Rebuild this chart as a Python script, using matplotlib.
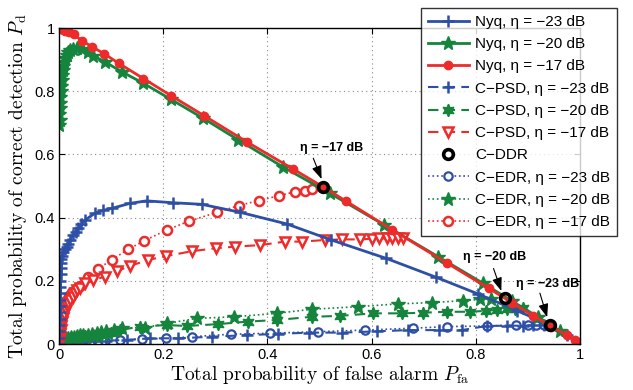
import matplotlib
matplotlib.use("Agg")
import matplotlib.pyplot as plt
from matplotlib.lines import Line2D

# ---------------- data ----------------
nyq17_x = [0, 0.003, 0.006, 0.009, 0.012, 0.016, 0.02, 0.028, 0.044, 0.063, 0.087, 0.115, 0.162, 0.215, 0.279, 0.36, 0.45, 0.506, 0.55, 0.64, 0.744, 0.825, 0.87, 0.91, 0.945, 0.975, 0.99, 1.0]
nyq17_y = [1.0, 0.998, 0.996, 0.994, 0.992, 0.99, 0.987, 0.98, 0.96, 0.941, 0.918, 0.888, 0.84, 0.786, 0.722, 0.64, 0.553, 0.498, 0.453, 0.361, 0.257, 0.176, 0.13, 0.09, 0.055, 0.028, 0.012, 0.0]

nyq20_x = [0, 0.001, 0, 0.001, 0.002, 0.002, 0.003, 0.004, 0.005, 0.006, 0.007, 0.008, 0.01, 0.012, 0.015, 0.018, 0.022, 0.027, 0.035, 0.044, 0.055, 0.066, 0.088, 0.12, 0.162, 0.215, 0.277, 0.344, 0.43, 0.52, 0.624, 0.728, 0.814, 0.87, 0.92, 0.962, 1.0]
nyq20_y = [0.693, 0.71, 0.728, 0.746, 0.764, 0.782, 0.8, 0.818, 0.835, 0.852, 0.867, 0.88, 0.893, 0.905, 0.915, 0.923, 0.93, 0.934, 0.936, 0.933, 0.925, 0.912, 0.893, 0.862, 0.825, 0.774, 0.714, 0.646, 0.56, 0.477, 0.377, 0.276, 0.192, 0.135, 0.085, 0.04, 0.0]

nyq23_x = [0, 0, 0.0005, 0.0005, 0.001, 0.001, 0.0015, 0.0015, 0.002, 0.002, 0.0025, 0.003, 0.0035, 0.004, 0.0045, 0.005, 0.008, 0.012, 0.015, 0.018, 0.021, 0.027, 0.032, 0.037, 0.043, 0.05, 0.069, 0.085, 0.101, 0.136, 0.168, 0.219, 0.274, 0.347, 0.437, 0.523, 0.628, 0.724, 0.805, 0.88, 0.942, 0.975, 1.0]
nyq23_y = [0.0, 0.02, 0.04, 0.06, 0.08, 0.1, 0.12, 0.14, 0.16, 0.18, 0.2, 0.22, 0.24, 0.255, 0.268, 0.278, 0.29, 0.3, 0.308, 0.318, 0.329, 0.345, 0.356, 0.366, 0.38, 0.392, 0.414, 0.423, 0.429, 0.445, 0.453, 0.447, 0.442, 0.417, 0.38, 0.329, 0.271, 0.211, 0.158, 0.105, 0.06, 0.028, 0.0]

psd23_x = [0, 0.01, 0.02, 0.035, 0.05, 0.07, 0.09, 0.13, 0.175, 0.229, 0.293, 0.36, 0.42, 0.48, 0.543, 0.61, 0.67, 0.73, 0.773, 0.821, 0.86, 0.89, 0.91, 0.93]
psd23_y = [0, 0.002, 0.003, 0.005, 0.006, 0.008, 0.01, 0.013, 0.018, 0.018, 0.023, 0.028, 0.032, 0.036, 0.036, 0.04, 0.044, 0.044, 0.044, 0.057, 0.058, 0.058, 0.059, 0.06]

psd20_x = [0, 0.003, 0.007, 0.012, 0.017, 0.022, 0.03, 0.036, 0.042, 0.05, 0.057, 0.065, 0.072, 0.08, 0.09, 0.1, 0.117, 0.155, 0.207, 0.245, 0.306, 0.363, 0.418, 0.485, 0.539, 0.603, 0.658, 0.699, 0.744, 0.789, 0.82, 0.84, 0.86, 0.875, 0.89]
psd20_y = [0, 0.006, 0.01, 0.013, 0.015, 0.017, 0.02, 0.018, 0.022, 0.025, 0.022, 0.028, 0.026, 0.03, 0.033, 0.035, 0.044, 0.055, 0.06, 0.057, 0.063, 0.071, 0.076, 0.086, 0.089, 0.097, 0.097, 0.099, 0.102, 0.102, 0.105, 0.108, 0.11, 0.112, 0.115]

psd17_x = [0, 0.0005, 0.001, 0.002, 0.003, 0.0045, 0.006, 0.008, 0.01, 0.0125, 0.015, 0.018, 0.022, 0.026, 0.03, 0.035, 0.04, 0.05, 0.066, 0.088, 0.112, 0.136, 0.171, 0.205, 0.256, 0.301, 0.338, 0.386, 0.434, 0.466, 0.51, 0.543, 0.578, 0.6, 0.615, 0.63, 0.64, 0.65, 0.66]
psd17_y = [0, 0.01, 0.02, 0.033, 0.045, 0.058, 0.07, 0.083, 0.095, 0.108, 0.12, 0.13, 0.14, 0.15, 0.16, 0.17, 0.178, 0.192, 0.203, 0.213, 0.231, 0.247, 0.266, 0.278, 0.294, 0.303, 0.308, 0.313, 0.324, 0.324, 0.329, 0.331, 0.331, 0.333, 0.334, 0.334, 0.335, 0.335, 0.336]

ddr_x = [0.942, 0.857, 0.506]
ddr_y = [0.06, 0.145, 0.496]

edr23_x = [0, 0.008, 0.015, 0.025, 0.035, 0.048, 0.06, 0.075, 0.088, 0.117, 0.159, 0.205, 0.255, 0.33, 0.405, 0.498, 0.587, 0.68, 0.744, 0.821, 0.878, 0.9, 0.915, 0.93]
edr23_y = [0, 0.001, 0.002, 0.003, 0.004, 0.005, 0.007, 0.008, 0.01, 0.013, 0.015, 0.018, 0.023, 0.031, 0.034, 0.039, 0.044, 0.05, 0.055, 0.057, 0.06, 0.06, 0.06, 0.06]

edr20_x = [0, 0.002, 0.004, 0.007, 0.01, 0.014, 0.018, 0.023, 0.028, 0.034, 0.04, 0.047, 0.055, 0.063, 0.072, 0.08, 0.09, 0.105, 0.12, 0.165, 0.207, 0.264, 0.335, 0.418, 0.485, 0.574, 0.651, 0.715, 0.775, 0.808, 0.83]
edr20_y = [0, 0.006, 0.01, 0.012, 0.015, 0.018, 0.02, 0.021, 0.022, 0.025, 0.028, 0.027, 0.03, 0.033, 0.035, 0.037, 0.04, 0.045, 0.05, 0.052, 0.065, 0.081, 0.086, 0.097, 0.11, 0.118, 0.127, 0.131, 0.137, 0.141, 0.142]

edr17_x = [0, 0.0005, 0.001, 0.0015, 0.002, 0.003, 0.004, 0.006, 0.008, 0.011, 0.015, 0.02, 0.025, 0.032, 0.04, 0.056, 0.074, 0.101, 0.133, 0.164, 0.207, 0.25, 0.304, 0.345, 0.383, 0.422, 0.453, 0.472, 0.485]
edr17_y = [0, 0.012, 0.025, 0.038, 0.05, 0.065, 0.08, 0.095, 0.11, 0.125, 0.14, 0.153, 0.165, 0.175, 0.184, 0.211, 0.237, 0.266, 0.3, 0.327, 0.361, 0.389, 0.417, 0.438, 0.454, 0.469, 0.482, 0.485, 0.49]

ann_labels = ["η = −23 dB", "η = −20 dB", "η = −17 dB"]
x_ticks = [0, 0.2, 0.4, 0.6, 0.8, 1]
x_ticklabels = ["0", "0.2", "0.4", "0.6", "0.8", "1"]
y_ticks = [0, 0.2, 0.4, 0.6, 0.8, 1]
y_ticklabels = ["0", "0.2", "0.4", "0.6", "0.8", "1"]

# ---------------- style ----------------
BLUE = "#2E4FA6"
GREEN = "#15843C"
RED = "#EE2A2A"
plt.rcParams["mathtext.fontset"] = "cm"
plt.rcParams["font.family"] = ["Liberation Sans", "DejaVu Sans"]

fig = plt.figure(figsize=(6.33, 3.9), dpi=100)
ax = fig.add_axes([59/633, 1-344/390, (580-59)/633, (344-28)/390])

star6 = (6, 1, 0)

# C-EDR / C-PSD (drawn first, beneath)
ax.plot(edr23_x, edr23_y, ls=":", color=BLUE, lw=1.2, marker="o", ms=6, mfc="white", mec=BLUE, mew=1.6)
ax.plot(edr20_x, edr20_y, ls=":", color=GREEN, lw=1.2, marker="*", ms=10, mfc=GREEN, mec=GREEN)
ax.plot(edr17_x, edr17_y, ls=":", color=RED, lw=1.2, marker="o", ms=6.5, mfc="white", mec=RED, mew=1.8)
ax.plot(psd23_x, psd23_y, ls=(0, (5, 3)), color=BLUE, lw=1.5, marker="+", ms=8, mew=1.8)
ax.plot(psd20_x, psd20_y, ls=(0, (5, 3)), color=GREEN, lw=1.5, marker=star6, ms=9, mfc=GREEN, mec=GREEN)
ax.plot(psd17_x, psd17_y, ls=(0, (5, 3)), color=RED, lw=1.5, marker="v", ms=7, mfc="white", mec=RED, mew=1.8)

# Nyquist
ax.plot(nyq23_x, nyq23_y, ls="-", color=BLUE, lw=2, marker="+", ms=9, mew=1.8)
ax.plot(nyq20_x, nyq20_y, ls="-", color=GREEN, lw=2, marker="*", ms=10, mfc=GREEN, mec=GREEN)
ax.plot(nyq17_x, nyq17_y, ls="-", color=RED, lw=2, marker="o", ms=6, mfc=RED, mec=RED)

# C-DDR
ax.plot(ddr_x, ddr_y, ls="none", marker="o", ms=7, mfc="none", mec="black", mew=2.6, zorder=5)

# annotations
text_pos = [(0.937, 0.191), (0.837, 0.274), (0.523, 0.620)]
arrow_start = [(0.923, 0.161), (0.834, 0.239), (0.488, 0.588)]
arrow_tip = [(0.937, 0.085), (0.849, 0.168), (0.504, 0.522)]
for lab, tp, st, tip in zip(ann_labels, text_pos, arrow_start, arrow_tip):
    ax.text(tp[0], tp[1], lab, fontsize=9, fontweight="bold", ha="center", va="center", zorder=6)
    ax.annotate("", xy=tip, xytext=st,
                arrowprops=dict(arrowstyle="-|>,head_length=0.8,head_width=0.3", color="black", lw=0.8,
                                shrinkA=0, shrinkB=0), zorder=6)

ax.set_xlim(0, 1)
ax.set_ylim(0, 1)
ax.set_xticks(x_ticks)
ax.set_xticklabels(x_ticklabels)
ax.set_yticks(y_ticks)
ax.set_yticklabels(y_ticklabels)
ax.tick_params(direction="in", length=4, labelsize=10.5, top=True, right=True, pad=3)
ax.grid(True, ls=(0, (1, 3)), color="#888888", lw=0.8)
for s in ax.spines.values():
    s.set_linewidth(1)

ax.set_xlabel("Total probability of false alarm $P_{\\mathrm{fa}}$", fontsize=14, family="cmr10", labelpad=1)
ax.set_ylabel("Total probability of correct detection $P_{\\mathrm{d}}$", fontsize=14, family="cmr10", labelpad=4)

handles = [
    Line2D([], [], ls="-", color=BLUE, lw=2, marker="+", ms=9, mew=1.8),
    Line2D([], [], ls="-", color=GREEN, lw=2, marker="*", ms=10),
    Line2D([], [], ls="-", color=RED, lw=2, marker="o", ms=6),
    Line2D([], [], ls=(0, (5, 3)), color=BLUE, lw=1.5, marker="+", ms=8, mew=1.8),
    Line2D([], [], ls=(0, (5, 3)), color=GREEN, lw=1.5, marker=star6, ms=9),
    Line2D([], [], ls=(0, (5, 3)), color=RED, lw=1.5, marker="v", ms=7, mfc="white", mew=1.8),
    Line2D([], [], ls="none", marker="o", ms=7, mfc="none", mec="black", mew=2.6),
    Line2D([], [], ls=":", color=BLUE, lw=1.2, marker="o", ms=6, mfc="white", mew=1.6),
    Line2D([], [], ls=":", color=GREEN, lw=1.2, marker="*", ms=10),
    Line2D([], [], ls=":", color=RED, lw=1.2, marker="o", ms=6.5, mfc="white", mew=1.8),
]
labels = ["Nyq, η = −23 dB", "Nyq, η = −20 dB", "Nyq, η = −17 dB",
          "C−PSD, η = −23 dB", "C−PSD, η = −20 dB", "C−PSD, η = −17 dB",
          "C−DDR",
          "C−EDR, η = −23 dB", "C−EDR, η = −20 dB", "C−EDR, η = −17 dB"]
leg = fig.legend(handles, labels, loc="upper right", bbox_to_anchor=(617/633, 1-8/390),
                 fontsize=11, frameon=True, fancybox=False, edgecolor="black",
                 handlelength=2.7, handletextpad=0.4, labelspacing=0.54, borderpad=0.45,
                 borderaxespad=0)
leg.get_frame().set_linewidth(1)
leg.set_zorder(10)

fig.savefig("out.png", dpi=100)
